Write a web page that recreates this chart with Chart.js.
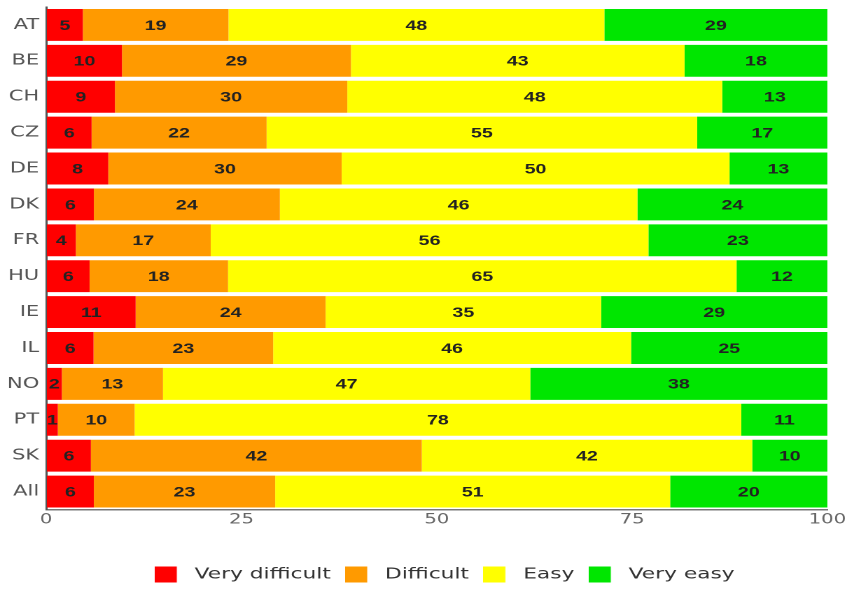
<!DOCTYPE html>
<html>
<head>
<meta charset="utf-8">
<script src="https://cdn.jsdelivr.net/npm/chart.js@4"></script>
<style>
  html, body { margin: 0; padding: 0; background: #fff; overflow: hidden; }
  /* the source picture is stretched sideways, so the whole canvas is too */
  #wrap { width: 608px; height: 592px; transform: scaleX(1.4); transform-origin: 0 0; }
</style>
</head>
<body>
<div id="wrap"><canvas id="chart" width="608" height="592"></canvas></div>
<script>
'use strict';

const countries = ['AT', 'BE', 'CH', 'CZ', 'DE', 'DK', 'FR', 'HU', 'IE', 'IL', 'NO', 'PT', 'SK', 'All'];

// segment widths (%)
const veryDifficult = [4.69, 9.70, 8.80, 5.81, 7.95, 6.10, 3.79, 5.55, 11.45, 6.06, 2.00, 1.49, 5.72, 6.10];
const difficult = [18.64, 29.31, 29.74, 22.40, 29.87, 23.81, 17.27, 17.73, 24.32, 22.99, 12.95, 9.83, 42.36, 23.21];
const easy = [48.12, 42.70, 48.00, 55.12, 49.65, 45.77, 56.03, 65.09, 35.26, 45.82, 47.01, 77.65, 42.30, 50.56];
const veryEasy = [28.55, 18.29, 13.46, 16.67, 12.53, 24.32, 22.91, 11.63, 28.97, 25.13, 38.04, 11.03, 9.62, 20.13];

// numbers printed inside the segments
const veryDifficultLabels = [5, 10, 9, 6, 8, 6, 4, 6, 11, 6, 2, 1, 6, 6];
const difficultLabels = [19, 29, 30, 22, 30, 24, 17, 18, 24, 23, 13, 10, 42, 23];
const easyLabels = [48, 43, 48, 55, 50, 46, 56, 65, 35, 46, 47, 78, 42, 51];
const veryEasyLabels = [29, 18, 13, 17, 13, 24, 23, 12, 29, 25, 38, 11, 10, 20];

const xTicks = [0, 25, 50, 75, 100];
const colors = ['#ff0000', '#ff9a00', '#ffff00', '#00e600'];

// legend swatch: square on the left, empty space after it (wider gap to text)
function swatch(color) {
    const c = document.createElement('canvas');
    c.width = 21;
    c.height = 16;
    const g = c.getContext('2d');
    g.fillStyle = color;
    g.fillRect(0, 0, 16, 16);
    return c;
}
const swatches = colors.map(swatch);

// Draw the printed value in the middle of each segment
const segmentLabels = {
    id: 'segmentLabels',
    afterDatasetsDraw(chart) {
        const ctx = chart.ctx;
        ctx.save();
        ctx.font = 'bold 14px "Liberation Sans", Arial, sans-serif';
        ctx.fillStyle = '#222';
        ctx.textAlign = 'center';
        ctx.textBaseline = 'middle';
        chart.data.datasets.forEach((ds, i) => {
            const meta = chart.getDatasetMeta(i);
            meta.data.forEach((bar, j) => {
                const p = bar.getCenterPoint();
                ctx.fillText(String(ds.printed[j]), p.x, p.y + 1);
            });
        });
        ctx.restore();
    }
};

// legend sits a bit right of centre in the original
const legendShift = {
    id: 'legendShift',
    afterLayout(chart) {
        chart.legend.left += 22;
        chart.legend.right += 22;
    }
};

const barOpts = { categoryPercentage: 1, barPercentage: 0.89, borderWidth: 0 };

new Chart(document.getElementById('chart'), {
    type: 'bar',
    data: {
        labels: countries,
        datasets: [
            { label: 'Very difficult', data: veryDifficult, printed: veryDifficultLabels, backgroundColor: colors[0], ...barOpts },
            { label: 'Difficult', data: difficult, printed: difficultLabels, backgroundColor: colors[1], ...barOpts },
            { label: 'Easy', data: easy, printed: easyLabels, backgroundColor: colors[2], ...barOpts },
            { label: 'Very easy', data: veryEasy, printed: veryEasyLabels, backgroundColor: colors[3], ...barOpts }
        ]
    },
    options: {
        indexAxis: 'y',
        responsive: false,
        devicePixelRatio: 2,
        animation: false,
        layout: { padding: { top: 7, right: 17, bottom: 0, left: 0 } },
        scales: {
            x: {
                stacked: true,
                min: 0,
                max: 100,
                afterBuildTicks: s => { s.ticks = xTicks.map(v => ({ value: v })); },
                afterFit: s => { s.height = 47; },
                grid: { drawOnChartArea: false, drawTicks: false },
                border: { display: true, color: '#777', width: 1.5 },
                ticks: {
                    padding: 2,
                    color: '#666',
                    font: { family: '"DejaVu Sans", sans-serif', size: 14 }
                }
            },
            y: {
                stacked: true,
                afterFit: s => { s.width = 33; s.paddingTop = 0; s.paddingBottom = 0; },
                grid: { drawOnChartArea: false, drawTicks: false },
                border: { display: true, color: '#555', width: 1.5 },
                ticks: {
                    padding: 5,
                    color: '#555',
                    font: { family: '"DejaVu Sans", sans-serif', size: 15 }
                }
            }
        },
        plugins: {
            tooltip: { enabled: false },
            legend: {
                position: 'bottom',
                labels: {
                    usePointStyle: true,
                    pointStyleWidth: 21,
                    boxHeight: 16,
                    padding: 10,
                    color: '#333',
                    font: { family: '"DejaVu Sans", sans-serif', size: 15.5 },
                    generateLabels(chart) {
                        const items = Chart.defaults.plugins.legend.labels.generateLabels(chart);
                        items.forEach((it, i) => { it.pointStyle = swatches[i]; });
                        return items;
                    }
                }
            }
        }
    },
    plugins: [segmentLabels, legendShift]
});
</script>
</body>
</html>
